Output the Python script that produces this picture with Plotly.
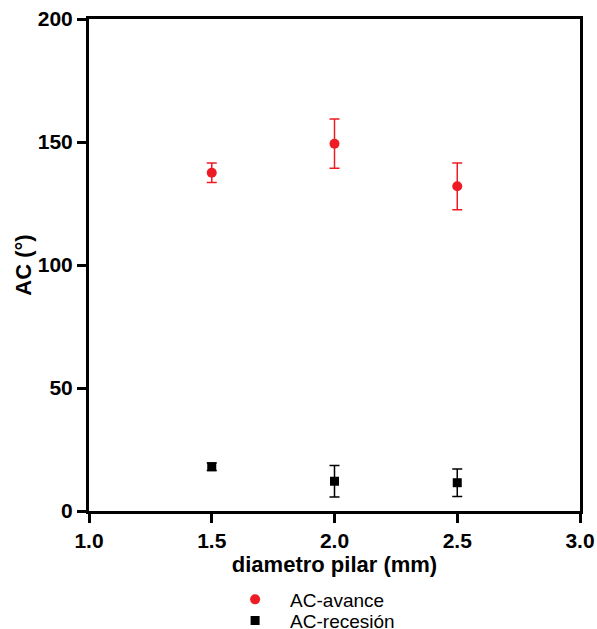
import plotly.graph_objects as go

diam = [1.5, 2.0, 2.5]
avance = [137.5, 149.3, 132.0]
avance_err = [4.0, 10.0, 9.5]
recesion = [18.0, 12.1, 11.5]
recesion_err = [1.5, 6.4, 5.6]

RED = "#ED1C24"
FONT = "Liberation Sans, Arial, sans-serif"

fig = go.Figure()
fig.add_trace(go.Scatter(
    x=diam, y=avance, mode="markers", name="AC-avance", legend="legend",
    marker=dict(symbol="circle", size=10, color=RED),
    error_y=dict(type="data", array=avance_err, color=RED, thickness=1.5, width=5),
))
fig.add_trace(go.Scatter(
    x=diam, y=recesion, mode="markers", name="AC-recesión", legend="legend2",
    marker=dict(symbol="square", size=9, color="black"),
    error_y=dict(type="data", array=recesion_err, color="black", thickness=1.5, width=5),
))

axis_common = dict(
    showgrid=False, zeroline=False, showline=True, linecolor="black", linewidth=3,
    mirror=True, ticks="outside", ticklen=9, tickwidth=2.5, tickcolor="black",
    tickfont=dict(family=FONT, size=21, color="black", weight="bold"),
    automargin=False,
)
fig.update_xaxes(range=[1.0, 3.0], tickvals=[1.0, 1.5, 2.0, 2.5, 3.0],
                 ticktext=["1.0", "1.5", "2.0", "2.5", "3.0"],
                 title=dict(text="<b>diametro pilar (mm)</b>", font=dict(family=FONT, size=22, color="black"), standoff=3),
                 **axis_common)
fig.update_yaxes(range=[0, 200], tickvals=[0, 50, 100, 150, 200],
                 title=dict(text="<b>AC (°)</b>", font=dict(family=FONT, size=22, color="black"), standoff=1),
                 **axis_common)

legend_common = dict(xanchor="left", yanchor="top",
                     font=dict(family=FONT, size=19, color="black"),
                     itemwidth=60, bgcolor="rgba(0,0,0,0)")

fig.update_layout(
    width=597, height=629, autosize=False,
    margin=dict(l=89, r=17, t=19, b=118, autoexpand=False),
    paper_bgcolor="white", plot_bgcolor="white",
    showlegend=True,
    legend=dict(x=0.267, y=-0.1413, **legend_common),
    legend2=dict(x=0.267, y=-0.184, **legend_common),
)

fig.write_html("out.html")
